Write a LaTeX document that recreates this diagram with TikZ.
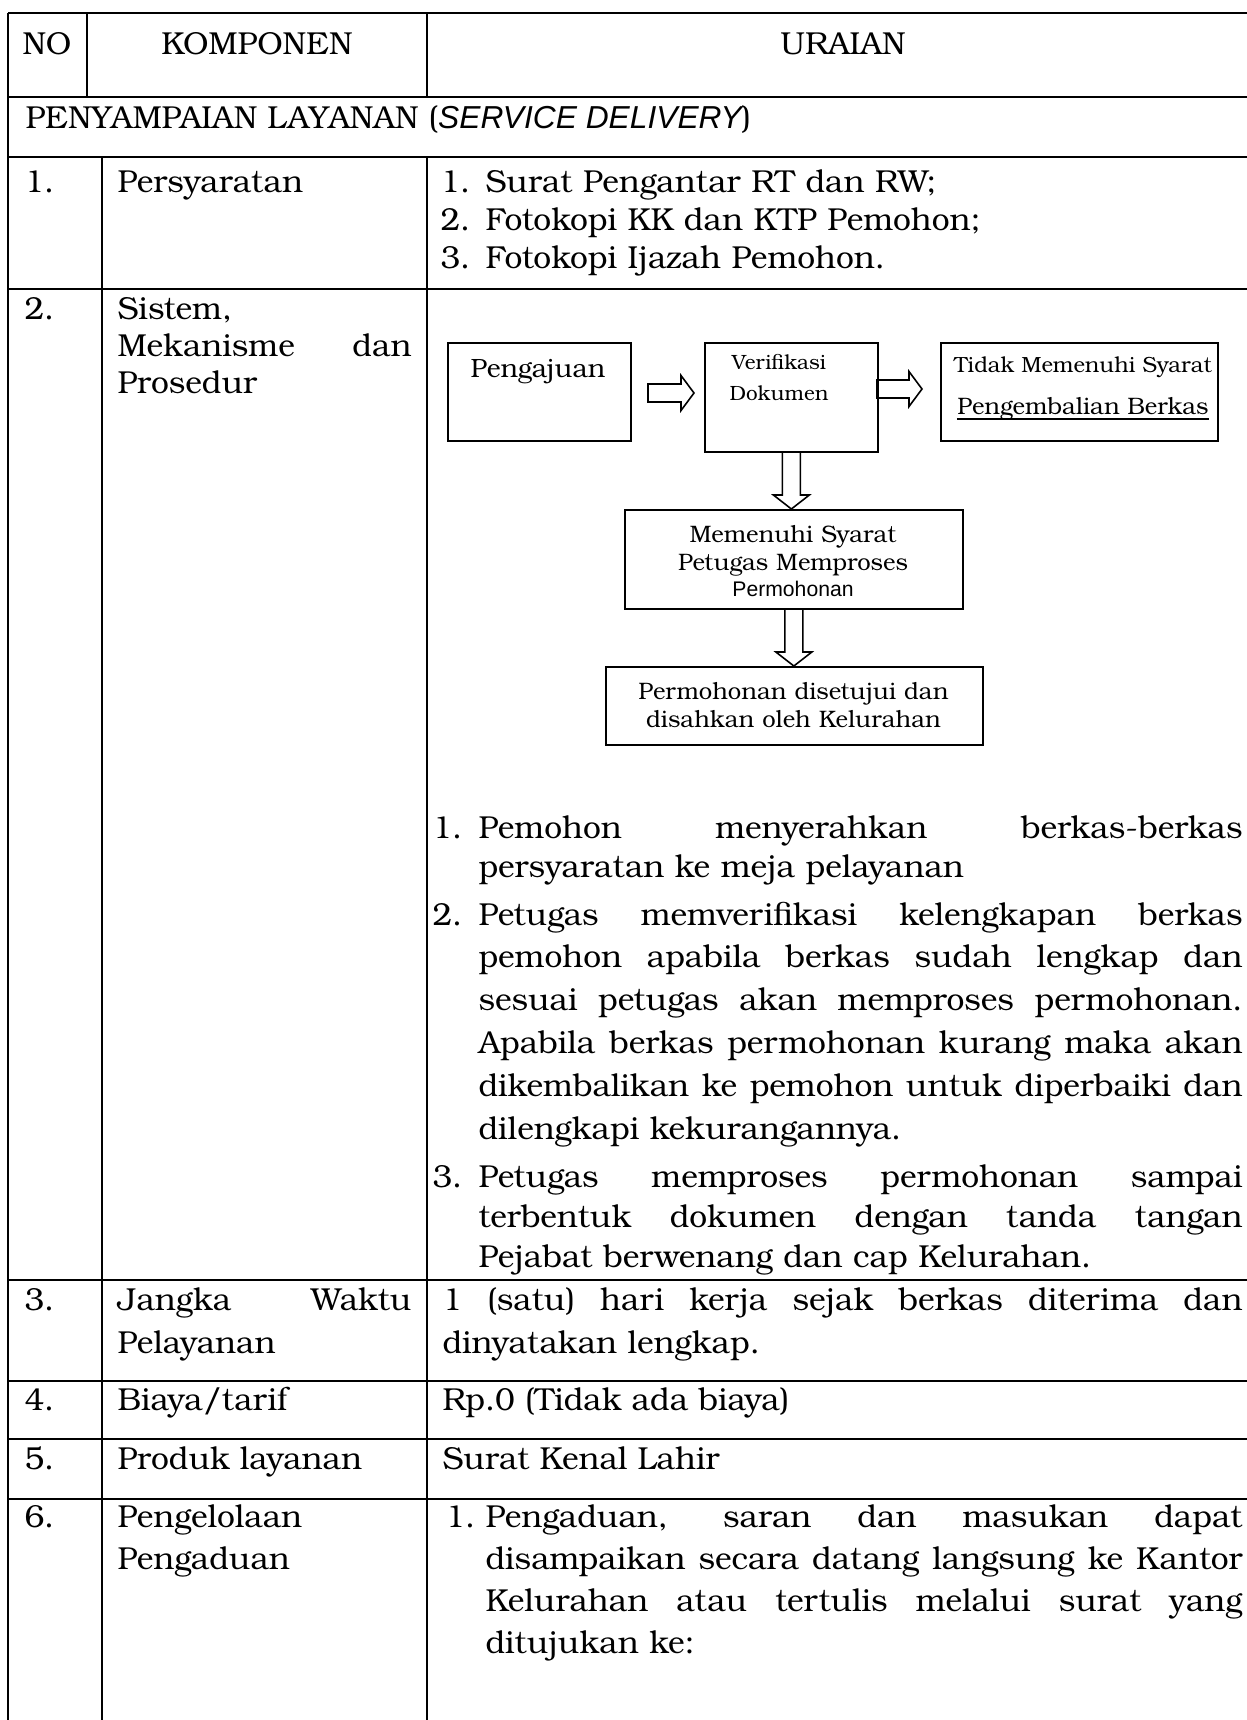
\documentclass[tikz,border=0pt]{standalone}
\usepackage{fontspec}
\setmainfont{texgyrebonum}[Extension=.otf,UprightFont=*-regular,ItalicFont=*-italic,BoldFont=*-bold]
\newfontfamily\arialfont{Liberation Sans}
\usetikzlibrary{calc,positioning}

% one pixel of the scanned page
\newcommand{\px}{0.378pt}
% a justified line of a paragraph
\newcommand{\jl}[1]{{\spaceskip=\fontdimen2\font plus 1fil\makebox[\hsize][s]{#1}}\\}
% hollow block arrows
\newcommand{\hblock}[2]{%
  \draw[blk] ($(#1)+(0,-9)$) -- ($(#2)+(-13,-9)$) -- ($(#2)+(-13,-17.5)$) -- (#2)
    -- ($(#2)+(-13,17.5)$) -- ($(#2)+(-13,9)$) -- ($(#1)+(0,9)$) -- cycle;}
\newcommand{\vblock}[2]{%
  \draw[blk] ($(#1)+(-9,0)$) -- ($(#2)+(-9,-14)$) -- ($(#2)+(-18,-14)$) -- (#2)
    -- ($(#2)+(18,-14)$) -- ($(#2)+(9,-14)$) -- ($(#1)+(9,0)$);}

\begin{document}
\begin{tikzpicture}[
    x=\px, y=-\px,
    grid/.style={line width=0.95pt},
    box/.style={draw,line width=0.65pt,inner sep=0pt,anchor=north west},
    boxwh/.style 2 args={minimum width=#1*\px,minimum height=#2*\px},
    cell/.style={anchor=base west,inner sep=0pt,font=\fontsize{12}{16.25}\selectfont},
    para/.style={cell,text width=#1*\px,align=left},
    btext/.style={anchor=base,inner sep=0pt,font=\fontsize{9}{10.6}\selectfont},
    blk/.style={line width=0.6pt,line join=miter}
]
\fill[white] (0,0) rectangle (1247,1720);
\useasboundingbox (0,0) rectangle (1247,1720);
\clip (0,0) rectangle (1247,1720);

% table rules
\draw[grid] (8,13) -- (1260,13);
\draw[grid] (8,97) -- (1260,97);
\draw[grid] (8,157) -- (1260,157);
\foreach \yy in {289,1280,1381,1439,1499}
  \draw[grid] (8,\yy) -- (1260,\yy);
\draw[grid] (8,13) -- (8,1730);
\draw[grid] (87,13) -- (87,97);
\draw[grid] (427,13) -- (427,97);
\draw[grid] (102,157) -- (102,1730);
\draw[grid] (427,157) -- (427,1730);

% header
\node[cell,anchor=base] (hno) at (47,55) {NO};
\node[cell,anchor=base] (hkomp) at (257,55) {KOMPONEN};
\node[cell,anchor=base] (hurai) at (843,55) {URAIAN};
\node[cell] (sect) at (25,128) {PENYAMPAIAN LAYANAN ({\arialfont\itshape SERVICE DELIVERY})};

% 1. persyaratan
\node[cell] (no1) at (24,192) {1.};
\node[cell] (kom1) at (117,192) {Persyaratan};
\node[para=40,font=\fontsize{12}{14.4}\selectfont] (num1) at (440,192) {1.\\2.\\3.};
\node[para=740,font=\fontsize{12}{14.4}\selectfont] (ur1) at (485,192)
  {Surat Pengantar RT dan RW;\\Fotokopi KK dan KTP Pemohon;\\Fotokopi Ijazah Pemohon.};

% 2. sistem, mekanisme dan prosedur
\node[cell] (no2) at (24,319) {2.};
\node[para=294,font=\fontsize{12}{14}\selectfont] (kom2) at (117,319)
  {Sistem,\\\jl{Mekanisme dan}Prosedur};

\node[box,boxwh={183}{98}] (aju) at (447,342) {};
\node[btext,font=\fontsize{10}{12}\selectfont] (ajut) at (538,377) {Pengajuan};
\node[box,boxwh={173}{109}] (verif) at (704,342) {};
\node[btext,text width=160*\px,align=center,font=\fontsize{7.8}{12}\selectfont] (veriftx) at (779,369)
  {Verifikasi\\Dokumen};
\node[box,boxwh={277}{98}] (tolak) at (940,342) {};
\node[btext,font=\fontsize{8.3}{9.6}\selectfont] (tolak1) at (1083,372) {Tidak Memenuhi Syarat};
\node[btext] (tolak2) at (1083,414) {Pengembalian Berkas};
\draw[line width=0.75pt] ($(tolak2.base west)+(0,5)$) -- ($(tolak2.base east)+(0,5)$);
\node[box,boxwh={338}{99}] (proses) at (624,509) {};
\node[btext,text width=330*\px,align=center,font=\fontsize{9}{10.96}\selectfont] (prosest) at (793,542)
  {Memenuhi Syarat\\Petugas Memproses};
\node[btext,font=\arialfont\fontsize{8}{9.6}\selectfont] (prosesp) at (793,596) {Permohonan};
\node[box,boxwh={377}{78}] (sah) at (605,666) {};
\node[btext,text width=370*\px,align=center] (saht) at (793.5,699)
  {Permohonan disetujui dan\\disahkan oleh Kelurahan};

\coordinate (a1s) at (648,393);
\coordinate (a1e) at (694,393);
\hblock{a1s}{a1e}
\coordinate (a2s) at (877,389);
\coordinate (a2e) at (922,389);
\hblock{a2s}{a2e}
\coordinate (d1e) at (verif.south |- proses.north);
\vblock{verif.south}{d1e}
\coordinate (d2e) at (proses.south |- sah.north);
\vblock{proses.south}{d2e}

\node[cell] (p1) at (432,838) {1.};
\node[para=764,font=\fontsize{12}{15.1}\selectfont] (u2a) at (478,838)
  {\jl{Pemohon menyerahkan berkas-berkas}persyaratan ke meja pelayanan};
\node[cell] (p2) at (432,925) {2.};
\node[para=764] (u2b) at (478,925)
  {\jl{Petugas memverifikasi kelengkapan berkas}\jl{pemohon apabila berkas sudah lengkap dan}%
   \jl{sesuai petugas akan memproses permohonan.}\jl{Apabila berkas permohonan kurang maka akan}%
   \jl{dikembalikan ke pemohon untuk diperbaiki dan}dilengkapi kekurangannya.};
\node[cell] (p3) at (432,1187) {3.};
\node[para=764,font=\fontsize{12}{15.3}\selectfont] (u2c) at (478,1187)
  {\jl{Petugas memproses permohonan sampai}\jl{terbentuk dokumen dengan tanda tangan}%
   Pejabat berwenang dan cap Kelurahan.};

% 3. jangka waktu
\node[cell] (no3) at (24,1310) {3.};
\node[para=294] (kom3) at (117,1310) {\jl{Jangka Waktu}Pelayanan};
\node[para=800] (ur3) at (442,1310)
  {\jl{1 (satu) hari kerja sejak berkas diterima dan}dinyatakan lengkap.};

% 4. biaya, 5. produk
\node[cell] (no4) at (24,1410) {4.};
\node[cell] (kom4) at (117,1410) {Biaya/tarif};
\node[cell] (ur4) at (442,1410) {Rp.0 (Tidak ada biaya)};
\node[cell] (no5) at (24,1469) {5.};
\node[cell] (kom5) at (117,1469) {Produk layanan};
\node[cell] (ur5) at (442,1469) {Surat Kenal Lahir};

% 6. pengaduan
\node[cell] (no6) at (24,1527) {6.};
\node[para=294,font=\fontsize{12}{16}\selectfont] (kom6) at (117,1527) {Pengelolaan\\Pengaduan};
\node[cell] (q1) at (445,1527) {1.};
\node[para=757,font=\fontsize{12}{15.9}\selectfont] (ur6) at (485,1527)
  {\jl{Pengaduan, saran dan masukan dapat}\jl{disampaikan secara datang langsung ke Kantor}%
   \jl{Kelurahan atau tertulis melalui surat yang}ditujukan ke:};
\end{tikzpicture}
\end{document}
